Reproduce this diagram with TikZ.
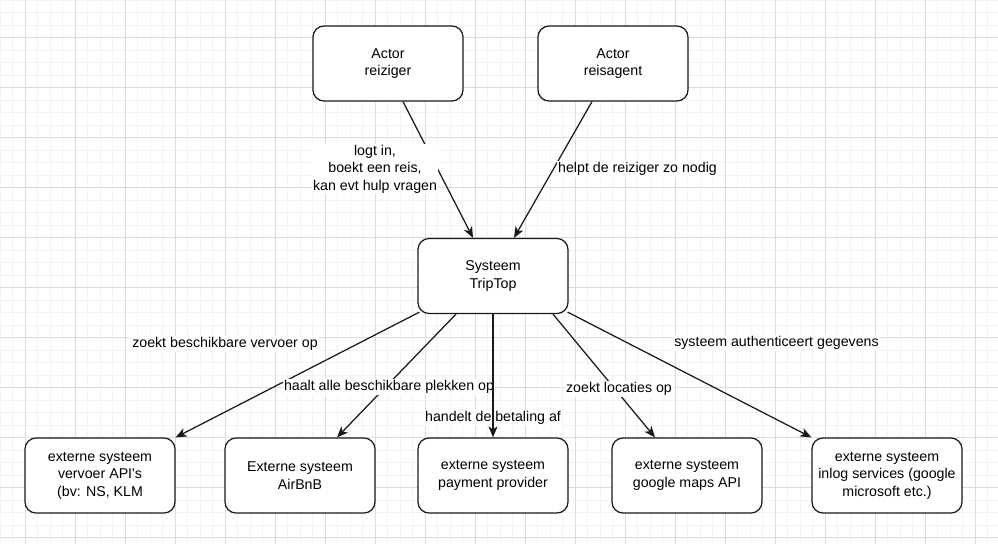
\documentclass[tikz,border=0pt]{standalone}
\usepackage{fontspec}
\setmainfont{Liberation Sans}
\usetikzlibrary{arrows.meta,positioning}
\definecolor{gridminor}{HTML}{F2F2F2}
\definecolor{gridmajor}{HTML}{DCDCDC}
\definecolor{linegray}{HTML}{1A1A1A}
\begin{document}
\begin{tikzpicture}[
  x=1pt,y=-1pt,
  box/.style={draw=linegray,line width=1.25pt,rounded corners=11pt,fill=white,
    minimum width=150pt,minimum height=75pt,inner sep=2pt,align=center,
    font=\fontsize{14.2}{17.5}\selectfont},
  lbl/.style={fill=white,inner sep=1pt,align=center,
    font=\fontsize{14.2}{17.5}\selectfont},
  flow/.style={-{Stealth[length=11pt,width=9pt,inset=3pt]},line width=1.25pt,draw=linegray}
]
\useasboundingbox (0,0) rectangle (998,544);
\fill[white] (0,0) rectangle (998,544);
% grid
\foreach \gx in {0,12.5,...,998} \draw[gridminor,line width=1pt] (\gx,0) -- (\gx,544);
\foreach \gy in {0,12.5,...,544} \draw[gridminor,line width=1pt] (0,\gy) -- (998,\gy);
\foreach \gx in {25,75,...,975} \draw[gridmajor,line width=1pt] (\gx,0) -- (\gx,544);
\foreach \gy in {37.5,87.5,...,537.5} \draw[gridmajor,line width=1pt] (0,\gy) -- (998,\gy);

% actors and system
\node[box] (reiziger) at (388,63.5) {Actor\\reiziger};
\node[box] (reisagent) at (613,63.5) {Actor\\reisagent};
\node[box] (triptop) at (493,276) {Systeem\\TripTop};

% external systems
\node[box] (vervoer) at (100,475.5) {externe systeem\\vervoer API\textquotesingle s\\(bv: NS, KLM};
\node[box] (airbnb) at (300,475.5) {Externe systeem\\AirBnB};
\node[box] (payment) at (493,475.5) {externe systeem\\payment provider};
\node[box] (maps) at (687,475.5) {externe systeem\\google maps API};
\node[box] (inlog) at (887,475.5) {externe systeem\\inlog services (google\\microsoft etc.)};

% actor connectors
\draw[flow] ([xshift=15pt]reiziger.south) -- ([xshift=-20pt]triptop.north);
\draw[flow] ([xshift=-21pt]reisagent.south) -- ([xshift=21pt]triptop.north);
\node[lbl] (lreiziger) at (375,169) {logt in,\\boekt een reis,\\kan evt hulp vragen};
\node[lbl] (lreisagent) at (637.5,169) {helpt de reiziger zo nodig};

% system connectors
\draw[flow] ([xshift=2pt,yshift=2pt]triptop.south west) -- (vervoer.north east);
\draw[flow] ([xshift=-37pt]triptop.south) -- ([xshift=37pt]airbnb.north);
\draw[flow] ([xshift=60pt]triptop.south) -- ([xshift=-32pt]maps.north);
\draw[flow] ([xshift=-1pt,yshift=2pt]triptop.south east) -- (inlog.north west);
\node[lbl] (lvervoer) at (225,344) {zoekt beschikbare vervoer op};
\node[lbl] (lairbnb) at (389,387) {haalt alle beschikbare plekken op};
\node[lbl] (lpayment) at (493,418) {handelt de betaling af};
\node[lbl] (lmaps) at (619,389) {zoekt locaties op};
\node[lbl] (linlog) at (776.5,343) {systeem authenticeert gegevens};
\draw[flow] (triptop.south) -- (payment.north);
\end{tikzpicture}
\end{document}
